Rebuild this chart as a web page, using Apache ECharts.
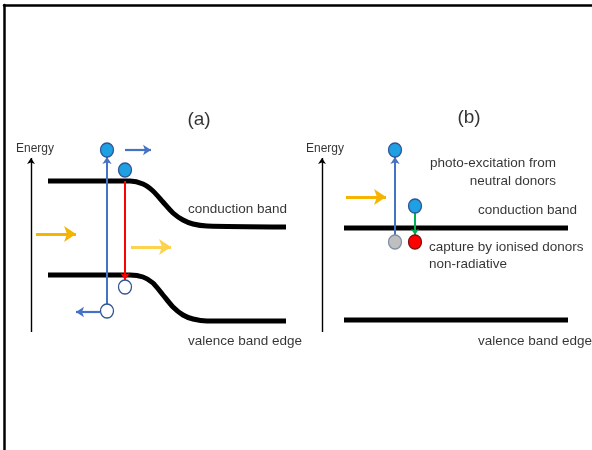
<!DOCTYPE html>
<html><head><meta charset="utf-8">
<script src="https://cdn.jsdelivr.net/npm/echarts@6/dist/echarts.min.js"></script>
<style>html,body{margin:0;padding:0;background:#fff}#c{width:592px;height:450px}</style>
</head><body><div id="c"></div>
<script>
// ---- data (diagram coordinates) ----
const bandA_conduction = [[48,181],[130,181],[143,184],[153,191],[163,202],[173,213],[183,220],[193,224],[207,226],[286,227]];
const bandA_valence    = [[48,275],[130,275],[143,277],[153,283],[163,295],[173,307],[183,315],[193,319],[207,321],[286,321]];
const bandB_conduction = [[344,228],[568,228]];
const bandB_valence    = [[344,320],[568,320]];

const energyAxes = [ [[31,332],[31,158]], [[322,332],[322,158]] ];
const blueArrows = [ [[107,305],[107,157]], [[395,235],[395,157]] ];
const smallBlueArrows = [ [[125,150],[151,150]], [[100,312],[76,312]] ];
const redArrow = [[125,181],[125,280]];
const greenArrow = [[415,213],[415,235]];
const orangeArrows = [ [[36,234],[76,234]], [[346,197],[386,197]] ];
const yellowArrow = [[131,247],[171,247]];

const electrons = [[107,150],[125,170],[395,150],[415,206]];
const holes = [[125,287],[107,311]];
const grayDonor = [[395,242]];
const redDonor = [[415,242]];

const panelTitles = [["(a)",199,120],["(b)",469,118]];
const energyLabels = [["Energy",35,149],["Energy",325,149]];
const leftTexts = [
  ["conduction band",188,209],
  ["valence band edge",188,341],
  ["capture by ionised donors",429,247],
  ["non-radiative",429,264],
  ["conduction band",478,210],
  ["valence band edge",478,341]
];
const rightTexts = [
  ["photo-excitation from",556,163],
  ["neutral donors",556,181]
];

// ---- chart ----
const FONT = 'Liberation Sans';
const chart = echarts.init(document.getElementById('c'));
function seg(arr, color, width){
  return arr.map(c => ({coords: c, lineStyle:{color, width}}));
}
function textSeries(list, align, size){
  return {
    type:'scatter', symbol:'circle', symbolSize:1, z:10, silent:true,
    itemStyle:{color:'rgba(0,0,0,0)'},
    data: list.map(t => ({value:[t[1],t[2]], name:t[0]})),
    label:{show:true, position:'inside', formatter: p => p.name, color:'#000',
      textBorderWidth:0, textBorderColor:'transparent',
      fontFamily:FONT, fontSize:size, align:align, verticalAlign:'middle'}
  };
}
function bandLine(d, smooth){
  return {type:'line', data:d, smooth:smooth, showSymbol:false, symbol:'none',
    lineStyle:{color:'#000', width:5}, z:2, silent:true};
}
function circleSeries(d, fill, border){
  return {type:'scatter', data:d, symbol:'circle', symbolSize:[13,14], z:8,
    itemStyle:{color:fill, borderColor:border, borderWidth:1.3, opacity:1}, silent:true};
}
function arrowLines(data, size){
  return {type:'lines', coordinateSystem:'cartesian2d', data:data, z:4, silent:true,
    symbol:['none','arrow'], symbolSize:size, lineStyle:{opacity:1, curveness:0}};
}

chart.setOption({
  animation:false,
  grid:{left:4, top:5, right:0, bottom:0},
  xAxis:{type:'value', min:4, max:592, position:'top',
    axisLine:{show:true, onZero:false, lineStyle:{color:'#000', width:2.5}},
    axisTick:{show:false}, axisLabel:{show:false}, splitLine:{show:false}},
  yAxis:{type:'value', min:5, max:450, inverse:true,
    axisLine:{show:true, onZero:false, lineStyle:{color:'#000', width:2.5}},
    axisTick:{show:false}, axisLabel:{show:false}, splitLine:{show:false}},
  series:[
    bandLine(bandA_conduction, 0.25), bandLine(bandA_valence, 0.25),
    bandLine(bandB_conduction, 0), bandLine(bandB_valence, 0),
    arrowLines(seg(energyAxes,'#000',1.4), 6),
    arrowLines(seg(blueArrows,'#4472c4',2), 7),
    arrowLines(seg(smallBlueArrows,'#4472c4',2.2), 8),
    arrowLines(seg([redArrow],'#ff0000',2), 7),
    arrowLines(seg([greenArrow],'#00b050',2), 6),
    arrowLines(seg(orangeArrows,'#f5b400',3), 12),
    arrowLines(seg([yellowArrow],'#fdd24e',3), 12),
    circleSeries(electrons, '#1fa0e2', '#2f5597'),
    circleSeries(holes, '#ffffff', '#2f5597'),
    circleSeries(grayDonor, '#bfbfbf', '#7f8fa6'),
    circleSeries(redDonor, '#ff0000', '#7f1010'),
    textSeries(panelTitles, 'center', 19),
    textSeries(energyLabels, 'center', 12),
    textSeries(leftTexts, 'left', 13.5),
    textSeries(rightTexts, 'right', 13.5)
  ]
});
</script></body></html>
